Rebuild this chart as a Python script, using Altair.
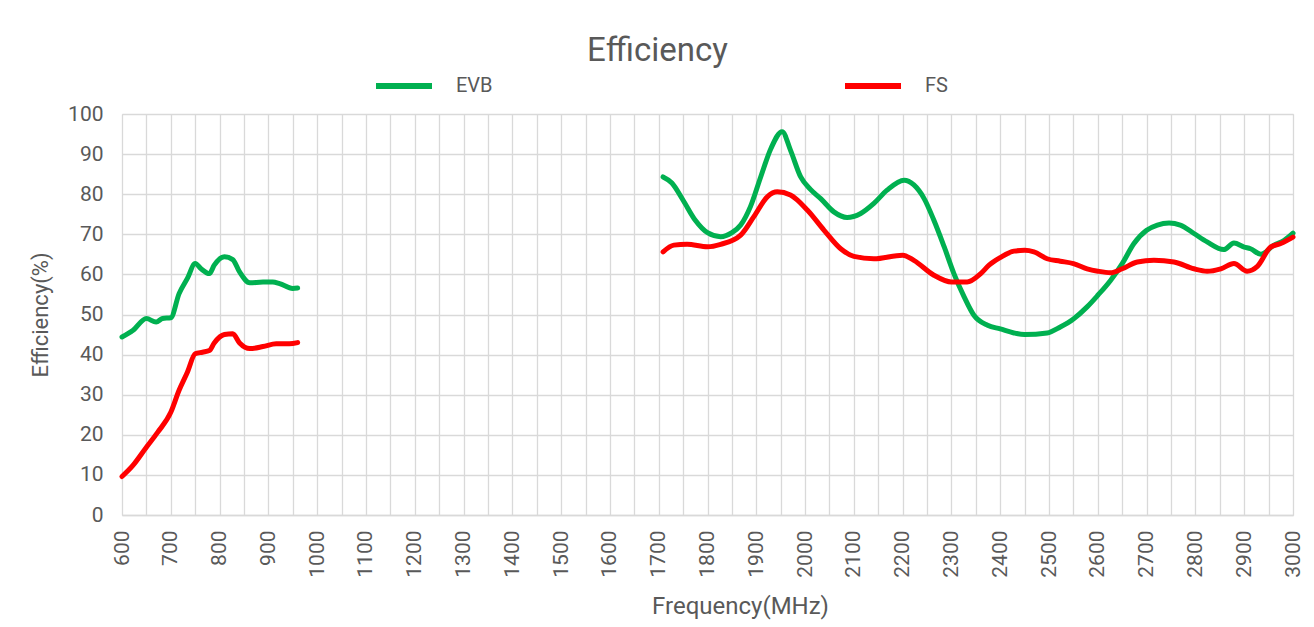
import altair as alt
import pandas as pd

# ---- data ----
series_names = ["EVB", "FS"]
series_colors = ["#00B050", "#FF0000"]

x_grid_values = list(range(600, 3001, 50))
y_grid_values = list(range(0, 101, 10))

evb_low_freq = [600, 622, 650, 670, 683, 700, 717, 734, 750, 762, 779, 789, 810, 827, 841, 862, 889, 909, 923, 950, 960]
evb_low_eff = [44.4, 46.0, 49.0, 48.1, 49.0, 49.2, 55.2, 59.0, 62.7, 61.4, 60.2, 62.3, 64.4, 63.7, 60.6, 57.9, 58.1, 58.1, 57.7, 56.5, 56.6]

fs_low_freq = [600, 622, 650, 673, 700, 717, 734, 750, 765, 779, 789, 810, 827, 841, 862, 889, 916, 943, 960]
fs_low_eff = [9.6, 12.3, 16.9, 20.6, 25.6, 31.1, 35.6, 40.2, 40.6, 41.0, 42.9, 45.0, 45.2, 42.9, 41.5, 42.0, 42.7, 42.7, 43.0]

evb_high_freq = [1709, 1727, 1750, 1775, 1800, 1827, 1850, 1868, 1888, 1909, 1930, 1953, 1970, 1991, 2011, 2032, 2059, 2086, 2114, 2141, 2168, 2203, 2223, 2244, 2264, 2285, 2305, 2326, 2346, 2374, 2400, 2428, 2450, 2496, 2523, 2550, 2578, 2600, 2626, 2650, 2674, 2700, 2722, 2746, 2769, 2797, 2824, 2858, 2879, 2900, 2913, 2934, 2961, 2982, 3000]
evb_high_eff = [84.3, 82.8, 78.5, 73.5, 70.4, 69.4, 70.4, 72.3, 76.9, 84.3, 91.4, 95.6, 91.0, 84.3, 81.2, 78.9, 75.6, 74.2, 75.2, 77.7, 81.0, 83.5, 82.3, 78.9, 73.5, 66.9, 60.2, 54.4, 49.8, 47.3, 46.4, 45.4, 45.0, 45.4, 46.9, 48.9, 51.9, 54.8, 58.5, 62.7, 67.7, 71.0, 72.3, 72.8, 72.3, 70.2, 68.1, 66.2, 67.8, 66.8, 66.4, 65.0, 67.3, 68.5, 70.3]

fs_high_freq = [1709, 1731, 1758, 1800, 1827, 1868, 1895, 1923, 1943, 1970, 2005, 2039, 2073, 2100, 2141, 2200, 2223, 2264, 2300, 2332, 2360, 2377, 2400, 2428, 2450, 2469, 2496, 2523, 2550, 2578, 2600, 2626, 2650, 2681, 2715, 2756, 2797, 2824, 2852, 2879, 2906, 2927, 2954, 2975, 3000]
fs_high_eff = [65.6, 67.3, 67.5, 66.9, 67.5, 69.8, 74.4, 79.4, 80.6, 79.8, 76.0, 71.0, 66.4, 64.5, 63.9, 64.8, 63.5, 59.8, 58.1, 58.1, 60.2, 62.3, 64.2, 65.8, 66.0, 65.6, 63.9, 63.3, 62.7, 61.4, 60.8, 60.4, 61.4, 63.1, 63.5, 63.1, 61.4, 60.8, 61.4, 62.7, 60.8, 62.0, 66.8, 67.7, 69.3]

segments = [
    ("EVB", "low", evb_low_freq, evb_low_eff),
    ("EVB", "high", evb_high_freq, evb_high_eff),
    ("FS", "low", fs_low_freq, fs_low_eff),
    ("FS", "high", fs_high_freq, fs_high_eff),
]

rows = []
for name, seg, freqs, effs in segments:
    for i, (f, e) in enumerate(zip(freqs, effs)):
        rows.append({"freq": f, "eff": e, "series": name, "segment": name + "_" + seg, "idx": i})
df = pd.DataFrame(rows)

FONT = "Roboto"
TXT = "#595959"
GRID = "#d9d9d9"

chart = (
    alt.Chart(df)
    .mark_line(strokeWidth=5, interpolate="monotone", strokeCap="round", strokeJoin="round")
    .encode(
        x=alt.X(
            "freq:Q",
            scale=alt.Scale(domain=[600, 3000], nice=False, zero=False),
            axis=alt.Axis(
                values=x_grid_values,
                labelExpr="datum.value % 100 == 0 ? datum.label : ''",
                format="d",
                labelAngle=270,
                labelAlign="right",
                labelBaseline="middle",
                labelPadding=15,
                labelFontSize=21,
                labelColor=TXT,
                labelFont=FONT,
                labelOverlap=False,
                labelFlush=False,
                ticks=False,
                tickSize=0,
                grid=True,
                gridColor=GRID,
                gridWidth=1.3,
                domainColor=GRID,
                domainWidth=1.3,
                title="Frequency(MHz)",
                titleFont=FONT,
                titleFontSize=24,
                titleFontWeight="normal",
                titleColor=TXT,
                titleX=618,
                titleY=91,
                titleBaseline="middle",
            ),
        ),
        y=alt.Y(
            "eff:Q",
            scale=alt.Scale(domain=[0, 100], nice=False),
            axis=alt.Axis(
                values=y_grid_values,
                labelPadding=19,
                labelFontSize=21,
                labelColor=TXT,
                labelFont=FONT,
                ticks=False,
                tickSize=0,
                grid=True,
                gridColor=GRID,
                gridWidth=1.3,
                domain=False,
                title="Efficiency(%)",
                titleFont=FONT,
                titleFontSize=22,
                titleFontWeight="normal",
                titleColor=TXT,
                titlePadding=15,
            ),
        ),
        color=alt.Color(
            "series:N",
            scale=alt.Scale(domain=series_names, range=series_colors),
            legend=alt.Legend(
                title=None,
                orient="none",
                direction="horizontal",
                legendX=251,
                legendY=-59,
                symbolType="stroke",
                symbolStrokeWidth=6,
                symbolSize=3136,
                labelFont=FONT,
                labelFontSize=20,
                labelColor=TXT,
                labelOffset=21,
                columnPadding=340,
            ),
        ),
        detail="segment:N",
        order="idx:Q",
    )
    .properties(
        width=1171,
        height=401,
        autosize=alt.AutoSizeParams(type="none"),
        padding={"left": 114, "top": 106, "right": 13, "bottom": 110},
        title=alt.Title(
            "Efficiency",
            font=FONT,
            fontSize=33,
            fontWeight="normal",
            color=TXT,
            anchor="middle",
            dx=-50,
            dy=13,
            offset=0,
        ),
    )
    .configure_view(stroke=GRID, strokeWidth=1.3)
    .configure(background="white")
)

chart.save("out.html", embed_options={"renderer": "svg", "actions": False})
